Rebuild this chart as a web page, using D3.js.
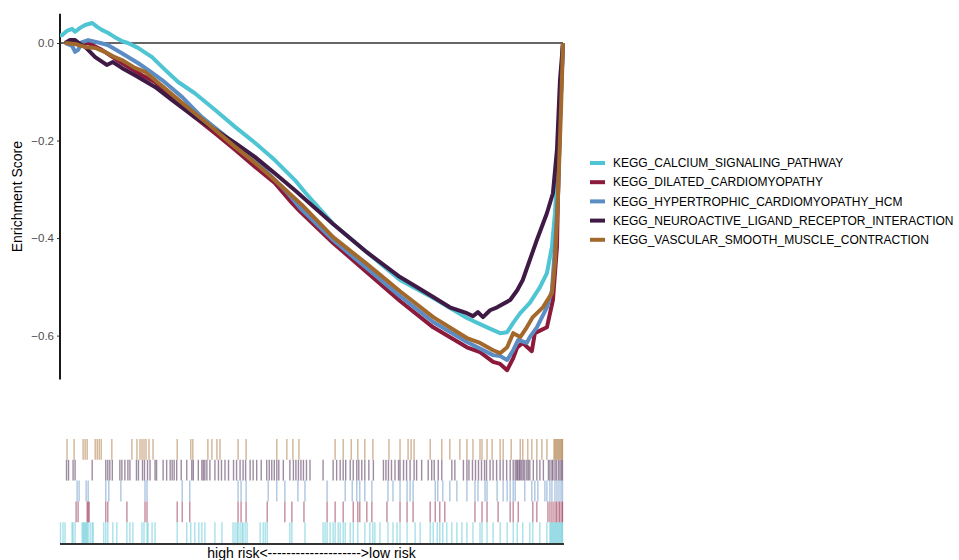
<!DOCTYPE html>
<html>
<head>
<meta charset="utf-8">
<script src="https://cdn.jsdelivr.net/npm/d3@7/dist/d3.min.js"></script>
<style>
    body { margin: 0; background: #fff; }
    svg { font-family: "Liberation Sans", Arial, sans-serif; }
</style>
</head>
<body>
<div id="chart"></div>
<script>
// pathway names, in legend order
let pathways = [
    'KEGG_CALCIUM_SIGNALING_PATHWAY',
    'KEGG_DILATED_CARDIOMYOPATHY',
    'KEGG_HYPERTROPHIC_CARDIOMYOPATHY_HCM',
    'KEGG_NEUROACTIVE_LIGAND_RECEPTOR_INTERACTION',
    'KEGG_VASCULAR_SMOOTH_MUSCLE_CONTRACTION'
];
let colors = ['#4fc4d3', '#8b1a3b', '#5b8dc4', '#3e1a45', '#a3692c'];

// running enrichment score: [position in ranked list (%), ES]
let calciumES = [[0,0.016],[0.4,0.016],[1.4,0.025],[2.4,0.029],[3.0,0.023],[4.0,0.031],[5.0,0.037],[6.4,0.041],[7.4,0.033],[8.3,0.027],[9.5,0.021],[10.9,0.012],[12.3,0.004],[13.5,0],[15.5,-0.010],[18.3,-0.029],[20.9,-0.055],[23.5,-0.080],[26.8,-0.103],[30.8,-0.137],[34.8,-0.172],[38.8,-0.205],[42.7,-0.240],[46.7,-0.281],[48.7,-0.306],[54.3,-0.371],[61.0,-0.429],[67.6,-0.486],[74.2,-0.523],[80.9,-0.564],[84.9,-0.583],[87.5,-0.595],[88.9,-0.593],[90.1,-0.574],[91.5,-0.554],[93.4,-0.533],[95.4,-0.501],[96.8,-0.472],[97.8,-0.418],[98.4,-0.349],[98.8,-0.281],[99.4,-0.137],[100,0]];
let dilatedES = [[1.0,0],[5.6,0],[8.3,-0.014],[12.3,-0.041],[16.3,-0.066],[18.9,-0.080],[22.9,-0.117],[26.8,-0.152],[30.8,-0.185],[34.8,-0.219],[38.8,-0.254],[42.7,-0.287],[46.1,-0.328],[47.7,-0.345],[54.3,-0.410],[61.0,-0.470],[67.6,-0.529],[74.2,-0.583],[80.9,-0.624],[83.5,-0.634],[86.1,-0.654],[87.5,-0.658],[88.9,-0.671],[90.1,-0.646],[90.9,-0.624],[92.0,-0.615],[93.8,-0.632],[94.4,-0.595],[96.8,-0.583],[98.0,-0.527],[98.8,-0.418],[99.0,-0.316],[99.4,-0.158],[100,0]];
let hypertrophicES = [[1.0,0],[2.4,-0.006],[3.0,-0.018],[3.6,-0.014],[4.4,0.002],[5.6,0.006],[8.0,0],[9.5,-0.004],[12.3,-0.021],[15.5,-0.041],[17.5,-0.055],[20.3,-0.076],[24.3,-0.111],[28.2,-0.152],[32.2,-0.185],[36.2,-0.219],[40.2,-0.254],[45.3,-0.308],[47.7,-0.338],[54.3,-0.404],[61.0,-0.462],[67.6,-0.519],[74.2,-0.572],[80.9,-0.613],[86.1,-0.640],[87.5,-0.642],[88.9,-0.650],[90.1,-0.630],[91.1,-0.609],[92.8,-0.615],[93.4,-0.603],[94.8,-0.583],[96.8,-0.542],[97.8,-0.507],[98.4,-0.418],[99.0,-0.316],[99.4,-0.158],[100,0]];
let neuroES = [[1.0,0],[2.0,0.006],[3.0,0.006],[4.0,-0.002],[5.0,-0.008],[7.0,-0.029],[9.3,-0.045],[10.5,-0.039],[12.3,-0.051],[14.9,-0.066],[18.9,-0.090],[22.3,-0.117],[26.8,-0.152],[30.8,-0.178],[34.8,-0.205],[38.8,-0.234],[42.7,-0.267],[46.7,-0.302],[54.3,-0.371],[61.0,-0.429],[67.6,-0.480],[71.0,-0.501],[74.2,-0.521],[77.5,-0.542],[80.9,-0.554],[82.1,-0.560],[83.1,-0.552],[84.1,-0.562],[85.5,-0.548],[86.9,-0.542],[89.5,-0.527],[90.9,-0.507],[92.0,-0.486],[93.4,-0.445],[94.8,-0.404],[96.8,-0.349],[98.0,-0.308],[98.8,-0.219],[99.4,-0.076],[100,0]];
let vascularES = [[1.0,0],[3.0,-0.002],[5.0,-0.008],[7.0,-0.010],[8.9,-0.018],[10.9,-0.029],[12.3,-0.035],[14.9,-0.051],[16.9,-0.059],[18.9,-0.076],[22.9,-0.111],[26.8,-0.144],[30.8,-0.178],[34.8,-0.213],[38.8,-0.246],[42.7,-0.281],[48.1,-0.332],[54.3,-0.398],[61.0,-0.453],[67.6,-0.509],[74.2,-0.562],[80.9,-0.605],[83.5,-0.615],[86.1,-0.630],[87.5,-0.636],[88.9,-0.624],[90.1,-0.595],[91.5,-0.603],[92.8,-0.583],[94.0,-0.562],[96.0,-0.542],[97.8,-0.513],[98.4,-0.451],[99.0,-0.316],[99.6,-0.137],[100,0]];

// positions of the pathway genes in the ranked list (%)
let calciumHits = [0.1,0.6,1.0,2.4,2.6,3.0,4.4,4.6,4.8,5.0,5.2,5.4,5.6,6.0,6.4,6.6,8.7,9.1,9.5,10.5,11.3,13.3,13.9,14.5,16.3,16.7,17.3,17.5,18.3,18.9,23.3,25.2,26.0,26.8,27.6,28.2,28.8,30.8,32.2,34.4,34.8,35.2,35.4,35.8,36.2,36.4,36.8,37.2,39.8,40.4,40.8,41.2,45.7,46.1,48.7,52.3,52.7,53.1,53.7,54.3,54.7,55.3,55.7,56.3,56.7,57.7,58.3,59.2,60.6,61.6,62.2,62.6,63.6,65.2,66.2,67.0,67.6,69.0,70.6,71.6,73.6,74.2,75.0,75.5,76.1,76.9,77.9,78.9,79.9,80.9,82.1,83.5,83.9,84.9,86.1,87.5,88.9,90.1,90.9,92.0,93.4,94.0,95.4,96.8,97.4,97.6,97.8,98.0,98.2,98.4,98.6,98.8,99.0,99.2,99.4,99.6,99.8,99.9];
let dilatedHits = [3.2,3.6,5.4,5.6,5.8,9.1,9.5,13.3,16.9,17.3,23.3,24.3,25.8,35.4,36.0,37.0,41.2,44.7,46.1,48.5,53.1,54.7,56.3,58.3,59.2,59.6,61.0,62.0,65.0,67.6,69.0,70.2,73.6,74.6,75.5,76.5,82.5,83.9,84.9,87.1,89.5,90.1,91.1,94.0,94.8,97.0,97.4,97.8,98.2,98.6,98.8,99.2,99.4,99.8,99.9];
let hypertrophicHits = [3.4,3.8,5.2,5.6,9.1,9.7,12.1,16.9,17.3,24.3,25.8,35.4,36.0,37.0,41.4,43.1,44.7,47.3,48.7,53.1,56.7,58.1,59.0,59.6,60.6,62.0,65.2,66.2,67.6,69.0,69.6,70.2,74.6,75.1,76.1,77.5,78.9,80.9,82.5,83.1,84.5,84.9,86.9,88.1,88.9,89.5,90.1,90.5,92.4,93.8,94.4,95.0,96.4,96.8,97.4,97.8,98.4,98.8,99.2,99.6,99.9];
let neuroHits = [1.3,1.7,2.6,3.0,6.4,9.1,9.5,9.9,10.4,11.9,12.3,12.9,13.5,13.9,15.2,15.6,16.4,16.8,17.4,17.9,18.9,19.2,20.5,21.2,21.9,22.3,22.7,23.2,24.1,25.2,26.2,26.5,27.5,28.2,28.5,28.8,29.2,29.8,30.8,31.5,32.1,32.8,33.5,34.5,35.1,35.8,36.4,36.9,37.8,38.4,39.1,40.0,41.1,41.6,42.1,42.6,43.1,43.5,44.4,45.7,46.4,46.9,47.4,47.9,48.4,49.0,49.7,52.3,54.3,55.0,55.7,56.3,56.8,57.7,58.3,59.0,59.4,60.0,60.6,61.4,62.3,64.3,64.8,65.3,65.9,66.6,67.3,67.6,68.3,68.9,69.6,70.4,70.9,71.9,73.2,73.9,74.4,75.2,75.9,77.9,78.5,80.2,80.9,81.3,82.0,82.6,83.2,83.8,84.4,84.8,85.5,86.1,86.8,87.5,88.1,88.8,89.5,90.1,90.5,90.8,91.0,91.3,91.5,91.8,92.1,92.4,92.8,93.1,93.4,94.1,94.8,95.4,96.1,97.1,97.4,97.8,98.0,98.4,98.7,99.1,99.4,99.7,99.9];
let vascularHits = [1.4,2.8,4.6,5.0,5.4,7.0,7.4,7.8,8.2,10.3,14.3,15.3,15.9,16.3,16.7,17.1,17.7,18.5,23.3,26.0,26.4,29.4,30.2,31.2,31.8,35.4,37.0,43.1,45.1,46.3,47.5,54.7,56.3,57.9,59.2,60.6,62.2,65.4,67.6,69.2,69.8,70.4,73.6,75.9,77.5,79.5,80.9,82.1,83.5,83.9,84.9,85.9,87.5,88.1,89.7,91.5,92.0,93.0,93.8,94.8,95.8,96.8,98.2,98.4,98.6,98.8,99.0,99.2,99.4,99.6,99.8,99.9];

let yTicks = [0, -0.2, -0.4, -0.6];
let yTitle = 'Enrichment Score';
let xTitle = 'high risk<-------------------->low risk';

function drawGseaPlot(div) {
    let config = getConfiguration(div);
    let series = pathways.map((name, i) => ({
        name: name,
        color: colors[i],
        es: [calciumES, dilatedES, hypertrophicES, neuroES, vascularES][i],
        hits: [calciumHits, dilatedHits, hypertrophicHits, neuroHits, vascularHits][i]
    }));

    let { xScaler, yScaler } = createScaler(config);
    drawAxes(config, xScaler, yScaler);
    drawLines(config, series, xScaler, yScaler);
    drawRug(config, series, xScaler);
    drawLegend(config, series);
}

function getConfiguration(div) {
    let width = 959, height = 560;
    let svg = d3.select(div).append('svg')
        .attr('width', width)
        .attr('height', height);
    return {
        svg,
        left: 60, right: 563,
        top: 13.75, bottom: 379.5,
        rugTop: 439, rugBottom: 543
    };
}

function createScaler(config) {
    let xScaler = d3.scaleLinear()
        .domain([0, 100])
        .range([config.left, config.right]);
    let yScaler = d3.scaleLinear()
        .domain([-0.69, 0.06])
        .range([config.bottom, config.top]);
    return { xScaler, yScaler };
}

function drawAxes(config, xScaler, yScaler) {
    let { svg } = config;

    let yAxis = d3.axisLeft(yScaler)
        .tickValues(yTicks)
        .tickSize(3)
        .tickPadding(3)
        .tickFormat(d => d3.format('.1f')(d).replace('-', '\u2212'));
    let g = svg.append('g')
        .attr('class', 'y-axis')
        .attr('transform', `translate(${config.left},0)`)
        .call(yAxis);
    g.select('.domain').remove();
    g.selectAll('.tick line').attr('stroke', '#333').attr('stroke-width', 1);
    g.selectAll('.tick text').attr('fill', '#4d4d4d').style('font-size', '11.5px');

    g.append('line')
        .attr('x1', 0).attr('x2', 0)
        .attr('y1', config.top).attr('y2', config.bottom)
        .attr('stroke', '#1a1a1a')
        .attr('stroke-width', 2);

    // zero reference line
    svg.append('line')
        .attr('x1', xScaler(0)).attr('x2', xScaler(100))
        .attr('y1', yScaler(0)).attr('y2', yScaler(0))
        .attr('stroke', '#333')
        .attr('stroke-width', 1.6);

    svg.append('text')
        .attr('transform', `translate(22,${(config.top + config.bottom) / 2}) rotate(-90)`)
        .attr('text-anchor', 'middle')
        .style('font-size', '14px')
        .attr('fill', '#000')
        .text(yTitle);

    // rug baseline and label
    svg.append('line')
        .attr('x1', xScaler(0)).attr('x2', xScaler(100) + 1)
        .attr('y1', config.rugBottom + 1).attr('y2', config.rugBottom + 1)
        .attr('stroke', '#333')
        .attr('stroke-width', 2);
    svg.append('text')
        .attr('x', (xScaler(0) + xScaler(100)) / 2)
        .attr('y', 558)
        .attr('text-anchor', 'middle')
        .style('font-size', '14px')
        .attr('fill', '#000')
        .text(xTitle);
}

function drawLines(config, series, xScaler, yScaler) {
    let line = d3.line()
        .x(d => xScaler(d[0]))
        .y(d => yScaler(d[1]));
    config.svg.append('g')
        .attr('class', 'lines')
        .selectAll('path')
        .data(series)
        .enter()
        .append('path')
        .attr('d', d => line(d.es))
        .attr('fill', 'none')
        .attr('stroke', d => d.color)
        .attr('stroke-width', 4)
        .attr('stroke-linejoin', 'round');
}

function drawRug(config, series, xScaler) {
    let rowScaler = d3.scaleBand()
        .domain(series.map(d => d.name).reverse())
        .range([config.rugTop, config.rugBottom]);
    let rows = config.svg.append('g')
        .attr('class', 'rug')
        .selectAll('g')
        .data(series)
        .enter()
        .append('g')
        .attr('transform', d => `translate(0,${rowScaler(d.name)})`);
    rows.each(function (s) {
        d3.select(this).selectAll('line')
            .data(s.hits)
            .enter()
            .append('line')
            .attr('x1', d => xScaler(d)).attr('x2', d => xScaler(d))
            .attr('y1', 0).attr('y2', rowScaler.bandwidth())
            .attr('stroke', s.color)
            .attr('stroke-width', 1.4)
            .attr('stroke-opacity', 0.5);
    });
}

function drawLegend(config, series) {
    let legend = config.svg.append('g')
        .attr('class', 'legend')
        .attr('transform', 'translate(590,163)');
    let items = legend.selectAll('g')
        .data(series)
        .enter()
        .append('g')
        .attr('transform', (d, i) => `translate(0,${i * 19.2})`);
    items.append('line')
        .attr('x1', 0).attr('x2', 15)
        .attr('stroke', d => d.color)
        .attr('stroke-width', 4);
    items.append('text')
        .attr('x', 23)
        .attr('dy', '0.35em')
        .style('font-size', '12px')
        .attr('fill', '#000')
        .text(d => d.name);
}

drawGseaPlot('#chart');
</script>
</body>
</html>
